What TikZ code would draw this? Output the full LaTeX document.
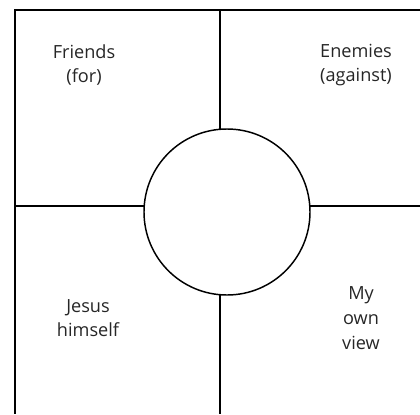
\documentclass[tikz,border=0pt]{standalone}
\usepackage{fontspec}
\setmainfont{Open Sans}
\usetikzlibrary{positioning}
\tikzset{
  rule/.style={draw=black, line width=1.1pt},
  hub/.style={circle, draw=black, fill=white, line width=1.1pt,
              minimum size=124.5pt, inner sep=0pt},
  qlabel/.style={align=center, text=black!85,
                 font=\fontsize{13.6}{18.5}\selectfont}
}
\begin{document}
\begin{tikzpicture}[x=0.75pt,y=-0.75pt]
  \useasboundingbox (0,0) rectangle (420,414);

  % frame and cross
  \coordinate (tl) at (15,10);
  \coordinate (tr) at (420,10);
  \coordinate (bl) at (15,414);
  \coordinate (ml) at (15,206);
  \coordinate (mr) at (420,206);
  \coordinate (mt) at (220,10);
  \coordinate (mb) at (220,414);

  \draw[rule] (tr) -- (tl) -- (bl);
  \draw[rule] (ml) -- (mr);
  \draw[rule] (mt) -- (mb);

  % centre circle
  \node[hub] (centre) at (227,212) {};

  % quadrant labels
  \node[qlabel] (friends) at (84,65)  {Friends\\(for)};
  \node[qlabel] (enemies) at (356,65) {Enemies\\(against)};
  \node[qlabel] (jesus)   at (88,318) {Jesus\\himself};
  \node[qlabel] (myview)  at (361,318) {My\\own\\view};
\end{tikzpicture}
\end{document}
